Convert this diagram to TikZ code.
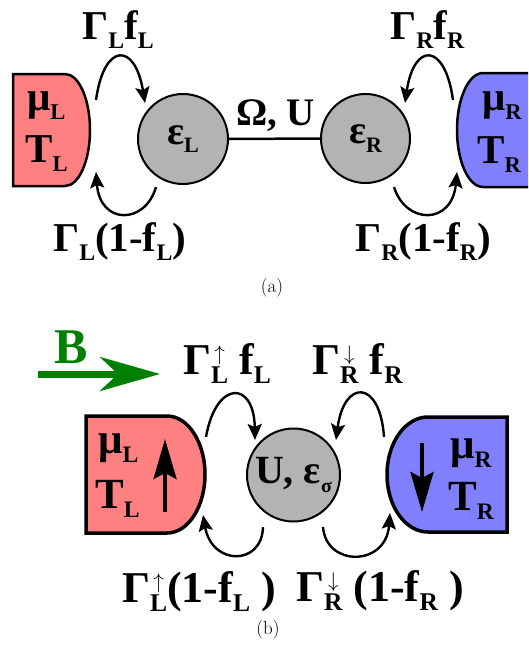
\documentclass[tikz,border=0pt]{standalone}
\usepackage{fontspec}
\newfontfamily\tnr{Liberation Serif}
\usetikzlibrary{arrows.meta}
\definecolor{resL}{HTML}{FF8080}
\definecolor{resR}{HTML}{8080FF}
\definecolor{dotgray}{HTML}{B3B3B3}
\definecolor{fieldgreen}{HTML}{008000}
\newcommand\lo[2][0.58]{\raisebox{-0.22em}{\scalebox{#1}{#2}}}
\newcommand\lohi[2]{{\ooalign{\lo{#1}\cr\hidewidth\raisebox{0.30em}{\scalebox{0.85}{$#2$}}\hidewidth\cr}}}
\tikzset{
  lbl/.style={font=\tnr\bfseries\fontsize{41}{41}\selectfont, inner sep=0pt, anchor=base west},
  lblb/.style={lbl, font=\tnr\bfseries\fontsize{44}{44}\selectfont},
  restxt/.style={lbl},
  restxtb/.style={lbl, font=\tnr\bfseries\fontsize{43}{43}\selectfont},
  dot/.style={circle, draw, line width=2pt, fill=dotgray, inner sep=0pt, font=\tnr\bfseries\fontsize{40}{40}\selectfont},
  hop/.style={-{Stealth[length=16pt,width=14pt,inset=3pt]}, line width=2.4pt},
  resa/.style={draw, line width=2.5pt},
  resb/.style={draw, line width=3.5pt},
  captxt/.style={font=\fontsize{19}{19}\selectfont, inner sep=0pt},
  spin/.style={-{Stealth[length=40pt,width=23pt,inset=6pt]}, line width=4pt},
  field/.style={-{Stealth[length=60pt,width=34pt,inset=18pt]}, line width=7pt, draw=fieldgreen},
}
\begin{document}
\begin{tikzpicture}[x=1pt,y=-1pt]
\useasboundingbox (0,0) rectangle (528,645);
\clip (0,0) rectangle (528,645);

% ---------------- (a) ----------------
\path[resa, fill=resL] (13,74) -- (65,74)
  .. controls (78.8,74) and (90,99) .. (90,130)
  .. controls (90,161) and (78.8,186) .. (65,186) -- (13,186) -- cycle;
\path[resa, fill=resR] (540,73) -- (483,73)
  .. controls (468.6,73) and (457,98.5) .. (457,130)
  .. controls (457,161.5) and (468.6,187) .. (483,187) -- (540,187) -- cycle;

\node[restxt] (muL) at (27,110) {μ\lo[0.55]{L}};
\node[restxt] (TL) at (25,162) {T\lo[0.55]{L}};
\node[restxt] (muR) at (482,110) {μ\lo[0.55]{R}};
\node[restxt] (TR) at (477,163) {T\lo[0.55]{R}};

\node[dot, minimum size=90pt] (eL) at (183,139) {ε\lo[0.55]{L}};
\node[dot, minimum size=89pt] (eR) at (365.5,138.5) {ε\lo[0.55]{R}};
\draw[line width=2.5pt] (eL) -- (eR);
\node[lbl, font=\tnr\bfseries\fontsize{39}{39}\selectfont] (OmU) at (236,125) {Ω, U};

\node[lbl] (gLfL) at (82,39) {Γ\lo{L}f\lo{L}};
\node[lbl] (gRfR) at (390,39) {Γ\lo{R}f\lo{R}};
\node[lbl] (gL1f) at (53,251) {Γ\lo{L}(1-f\lo{L})};
\node[lbl] (gR1f) at (355,251) {Γ\lo{R}(1-f\lo{R})};

\coordinate (a1s) at (96,100);  \coordinate (a1e) at (145,103);
\coordinate (a2s) at (156,187); \coordinate (a2e) at (96,172);
\coordinate (a3s) at (453,100); \coordinate (a3e) at (405,103);
\coordinate (a4s) at (394,187); \coordinate (a4e) at (457,172);
\draw[hop] (a1s) .. controls (104,42) and (135,42) .. (a1e);
\draw[hop] (a2s) .. controls (145,225) and (100,225) .. (a2e);
\draw[hop] (a3s) .. controls (445,42) and (414,42) .. (a3e);
\draw[hop] (a4s) .. controls (406,225) and (452,225) .. (a4e);

\node[captxt] (capa) at (272,288) {(a)};

% ---------------- (b) ----------------
\node[lbl, font=\tnr\bfseries\fontsize{50}{50}\selectfont, text=fieldgreen] (Blbl) at (54,363) {B};
\coordinate (Bs) at (38,374); \coordinate (Bt) at (160,374);
\draw[field] (Bs) -- (Bt);

\path[resb, fill=resL] (86,416) -- (167,416)
  .. controls (188,416) and (205,442.2) .. (205,474.5)
  .. controls (205,506.8) and (188,533) .. (167,533) -- (86,533) -- cycle;
\path[resb, fill=resR] (507,417) -- (428,417)
  .. controls (405.4,417) and (387,442.7) .. (387,474.5)
  .. controls (387,506.3) and (405.4,532) .. (428,532) -- (507,532) -- cycle;

\node[restxtb] (muLb) at (98,453) {μ\lo[0.55]{L}};
\node[restxtb] (TLb) at (95,508) {T\lo[0.55]{L}};
\node[restxtb] (muRb) at (450,458) {μ\lo[0.55]{R}};
\node[restxtb] (TRb) at (448,510) {T\lo[0.55]{R}};
\coordinate (spLs) at (165,512); \coordinate (spLt) at (165,439);
\coordinate (spRs) at (422,443); \coordinate (spRt) at (422,512);
\draw[spin] (spLs) -- (spLt);
\draw[spin] (spRs) -- (spRt);

\node[dot, minimum size=93pt] (dotb) at (293.5,475) {U, ε\lo[0.5]{σ}};

\node[lblb] (gLuf) at (183,374) {Γ\lohi{L}{\uparrow} f\lo{L}};
\node[lblb] (gRdf) at (312,374) {Γ\lohi{R}{\downarrow} f\lo{R}};
\node[lblb] (gLu1f) at (122,602) {Γ\lohi{L}{\uparrow}(1-f\lo{L} )};
\node[lblb] (gRd1f) at (296,601) {Γ\lohi{R}{\downarrow} (1-f\lo{R} )};

\coordinate (b1s) at (206,437); \coordinate (b1e) at (255,440);
\coordinate (b2s) at (263,527); \coordinate (b2e) at (203,515);
\coordinate (b3s) at (384,437); \coordinate (b3e) at (336,440);
\coordinate (b4s) at (323,527); \coordinate (b4e) at (390,513);
\draw[hop] (b1s) .. controls (216,380) and (254,380) .. (b1e);
\draw[hop] (b2s) .. controls (262,566) and (212,566) .. (b2e);
\draw[hop] (b3s) .. controls (380,379) and (344,379) .. (b3e);
\draw[hop] (b4s) .. controls (326,567) and (386,567) .. (b4e);

\node[captxt] (capb) at (268,630) {(b)};
\end{tikzpicture}
\end{document}
